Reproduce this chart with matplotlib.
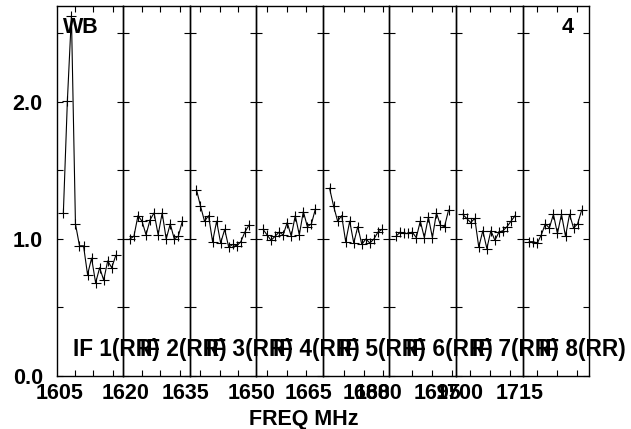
import numpy as np
import matplotlib
matplotlib.use('Agg')
import matplotlib.pyplot as plt

matplotlib.rcParams.update({
    'font.family': 'Liberation Sans',
    'font.weight': 'bold',
    'font.size': 15.5,
})

# frequency at the left edge of each IF panel (MHz)
PANEL_LO = [1604.2, 1619.5, 1634.6, 1652.0, 1669.3, 1683.2, 1699.2, 1716.0]
PANEL_WIDTH = 16.5
FIRST_CHAN_OFFSET = 1.65  # MHz from panel edge to first channel

IF_NAMES = ['IF 1(RR)', 'IF 2(RR)', 'IF 3(RR)', 'IF 4(RR)',
            'IF 5(RR)', 'IF 6(RR)', 'IF 7(RR)', 'IF 8(RR)']

# labelled frequencies per panel, as AIPS drew them (overlaps included)
LABEL_FREQS = [[1605], [1620, 1635], [1650], [1665], [1680, 1683.2],
               [1695], [1700, 1715], []]
LABEL_TEXT = [['1605'], ['1620', '1635'], ['1650'], ['1665'], ['1680', '1680'],
              ['1695'], ['1700', '1715'], []]
MINOR_TICKS = [[1608.7, 1613.3, 1618.2],
               [1624.1, 1628.6, 1633.6],
               [1637.1, 1642.1, 1646.6],
               [1654.6, 1659.5, 1664.3],
               [1674.6, 1679.6, 1684.3],
               [1688.7, 1693.7, 1698.6],
               [1702.7, 1707.6, 1712.6],
               [1719.5, 1724.5, 1729.4]]

# amplitude per channel (14 channels per IF)
AMP_IF1 = [1.19, 2.01, 2.63, 1.11, 0.95, 0.95, 0.74, 0.86, 0.68, 0.79, 0.70, 0.84, 0.79, 0.88]
AMP_IF2 = [1.00, 1.02, 1.17, 1.13, 1.03, 1.14, 1.19, 1.03, 1.19, 1.00, 1.11, 1.00, 1.02, 1.13]
AMP_IF3 = [1.36, 1.24, 1.13, 1.17, 0.98, 1.13, 0.97, 1.07, 0.94, 0.96, 0.95, 0.98, 1.05, 1.10]
AMP_IF4 = [1.07, 1.03, 0.99, 1.02, 1.05, 1.03, 1.12, 1.02, 1.17, 1.03, 1.20, 1.09, 1.11, 1.22]
AMP_IF5 = [1.37, 1.24, 1.13, 1.17, 0.98, 1.13, 0.97, 1.09, 0.96, 1.00, 0.97, 1.00, 1.05, 1.07]
AMP_IF6 = [1.02, 1.05, 1.04, 1.04, 1.05, 1.01, 1.13, 1.01, 1.16, 1.01, 1.19, 1.10, 1.09, 1.21]
AMP_IF7 = [1.18, 1.15, 1.12, 1.15, 0.94, 1.06, 0.93, 1.06, 0.99, 1.05, 1.06, 1.09, 1.13, 1.17]
AMP_IF8 = [0.98, 0.98, 0.97, 1.03, 1.11, 1.08, 1.18, 1.04, 1.18, 1.02, 1.18, 1.08, 1.11, 1.21]
AMPS = [AMP_IF1, AMP_IF2, AMP_IF3, AMP_IF4, AMP_IF5, AMP_IF6, AMP_IF7, AMP_IF8]

Y_TICKS = [0.0, 0.5, 1.0, 1.5, 2.0, 2.5]
Y_TICK_LABELS = ['0.0', '', '1.0', '', '2.0', '']

W, H = 631, 429
fig = plt.figure(figsize=(W / 100, H / 100), dpi=100)

x_left, panel_w = 56.7, 66.55
y_bot, y_top = 376, 6

for i in range(8):
    ax = fig.add_axes([(x_left + panel_w * i) / W, 1 - y_bot / H,
                       panel_w / W, (y_bot - y_top) / H])
    ax.patch.set_visible(False)  # let the IF labels run across panels
    lo = PANEL_LO[i]
    freqs = lo + FIRST_CHAN_OFFSET + np.arange(len(AMPS[i]))
    ax.plot(freqs, AMPS[i], color='black', lw=0.8, marker='+', ms=7, mew=0.8)

    ax.set_xlim(lo, lo + PANEL_WIDTH)
    ax.set_ylim(0, 2.70)

    ax.set_yticks(Y_TICKS)
    ax.set_yticklabels(Y_TICK_LABELS)
    ax.tick_params(axis='y', which='major', direction='in', left=True, right=True,
                   length=4.5, width=0.8, labelleft=(i == 0), pad=10)

    ax.set_xticks(LABEL_FREQS[i])
    ax.set_xticklabels(LABEL_TEXT[i])
    ax.tick_params(axis='x', which='major', length=0, pad=5)
    ax.set_xticks(MINOR_TICKS[i], minor=True)
    ax.tick_params(axis='x', which='minor', direction='in', top=True, bottom=True,
                   length=4.5, width=0.8)

    for s in ax.spines.values():
        s.set_linewidth(1.0)

    ax.text(0.245, 0.054, IF_NAMES[i], transform=ax.transAxes, va='baseline',
            ha='left', fontsize=16.3)

    if i == 0:
        ax.text(0.095, 0.927, 'WB', transform=ax.transAxes, va='baseline')
    if i == 7:
        ax.text(0.593, 0.927, '4', transform=ax.transAxes, va='baseline')

fig.text(304 / W, 1 - 424.5 / H, 'FREQ MHz', ha='center', va='baseline')

fig.savefig('out.png', dpi=100)
